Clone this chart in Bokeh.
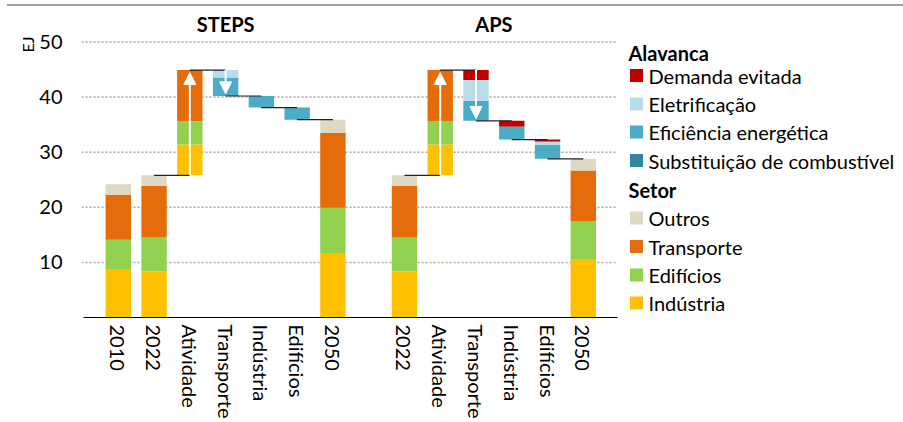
from bokeh.plotting import figure
from bokeh.models import ColumnDataSource, FixedTicker, Label, Arrow, NormalHead, Div, Range1d, Title
from bokeh.layouts import column
from bokeh.embed import file_html
from bokeh.resources import INLINE
from bokeh.core.properties import value

# ---------------- data (EJ) ----------------
steps_categories = ["2010", "2022", "Atividade", "Transporte", "Indústria", "Edifícios", "2050"]
aps_categories = ["2022", "Atividade", "Transporte", "Indústria", "Edifícios", "2050"]

sectors = ["Indústria", "Edifícios", "Transporte", "Outros"]
sector_colors = ["#FFC000", "#92D050", "#E46C0A", "#DDD9C3"]
levers = ["Demanda evitada", "Eletrificação", "Eficiência energética", "Substituição de combustível"]
lever_colors = ["#C00000", "#B7DEE8", "#4BACC6", "#31859C"]

# sector stacks for the year bars: order Indústria, Edifícios, Transporte, Outros
steps_2010 = [8.8, 5.3, 8.2, 1.9]
steps_2022 = [8.4, 6.2, 9.3, 1.9]
steps_2050 = [11.7, 8.2, 13.6, 2.4]
aps_2022 = [8.4, 6.2, 9.3, 1.9]
aps_2050 = [10.5, 7.0, 9.2, 2.1]

# activity effect 2022 -> 2050 by sector
steps_atividade = [5.6, 4.2, 9.3, 0.0]
aps_atividade = [5.6, 4.2, 9.3, 0.0]

# lever reductions: Demanda evitada, Eletrificação, Eficiência, Substituição
steps_transporte = [0.0, 1.4, 3.3, 0.0]
steps_industria = [0.0, 0.0, 2.1, 0.0]
steps_edificios = [0.0, 0.0, 2.2, 0.0]
aps_transporte = [1.8, 3.8, 3.6, 0.0]
aps_industria = [1.1, 0.0, 2.3, 0.0]
aps_edificios = [0.4, 0.6, 2.5, 0.0]

y_ticks = [10, 20, 30, 40, 50]

# ---------------- layout constants (page pixels) ----------------
FONT = "Lato"
DIV_H = 7
W, H = 903, 415
FRAME_LEFT_PAGE = 81
FRAME_BOTTOM_PAGE = 317
PX_X = 35.77                  # px per category slot
PX_Y = 5.51                   # px per EJ
MB_LEFT = FRAME_LEFT_PAGE
MB_BOTTOM = H - (FRAME_BOTTOM_PAGE - DIV_H)
frame_w = W - MB_LEFT
frame_h = H - MB_BOTTOM
x_start = (FRAME_LEFT_PAGE - 117.8) / PX_X
x_end = x_start + frame_w / PX_X
y_end = frame_h / PX_Y


def px_to_x(px):
    return x_start + (px - FRAME_LEFT_PAGE) / PX_X


def py_to_y(py):
    return (FRAME_BOTTOM_PAGE - py) / PX_Y


axis_lo, axis_hi = px_to_x(83), px_to_x(617)

# ---------------- build bars ----------------
bx, bbot, btop, bcol = [], [], [], []
connectors = []  # (x0, x1, y)
arrows = []      # (x, y0, y1)


def stack_year(x, vals):
    base = 0.0
    for v, c in zip(vals, sector_colors):
        if v > 0:
            bx.append(x); bbot.append(base); btop.append(base + v); bcol.append(c)
        base += v
    return base


def panel(offset, first_years, a2022, act, lever_steps, a2050):
    pos = offset
    for yv in first_years:
        stack_year(pos, yv)
        pos += 1
    x2022 = pos
    total = stack_year(x2022, a2022)
    xa = x2022 + 1
    connectors.append((x2022, xa, total))
    base = total
    for v, c in zip(act, sector_colors):
        if v > 0:
            bx.append(xa); bbot.append(base); btop.append(base + v); bcol.append(c)
        base += v
    arrows.append((xa, total, base - 0.45))
    level = base
    xp = xa
    for k, lv in enumerate(lever_steps):
        x = xa + 1 + k
        connectors.append((xp, x, level))
        start = level
        for v, c in zip(lv, lever_colors):
            if v > 0:
                bx.append(x); bbot.append(level - v); btop.append(level); bcol.append(c)
            level -= v
        if k == 0:
            arrows.append((x, start, level + 0.4))
        xp = x
    x50 = xa + 1 + len(lever_steps)
    connectors.append((xp, x50, level))
    stack_year(x50, a2050)


panel(0, [steps_2010], steps_2022, steps_atividade,
      [steps_transporte, steps_industria, steps_edificios], steps_2050)
panel(len(steps_categories) + 1, [], aps_2022, aps_atividade,
      [aps_transporte, aps_industria, aps_edificios], aps_2050)

tick_pos = list(range(len(steps_categories))) + \
    [len(steps_categories) + 1 + i for i in range(len(aps_categories))]
tick_labels = steps_categories + aps_categories

# ---------------- figure ----------------
p = figure(width=W, height=H, output_backend="svg", toolbar_location=None,
           x_range=Range1d(x_start, x_end), y_range=Range1d(0, y_end),
           min_border_left=MB_LEFT, min_border_right=0, min_border_top=0,
           min_border_bottom=MB_BOTTOM, outline_line_color=None,
           background_fill_color="white", border_fill_color="white")
p.xgrid.visible = False
p.ygrid.visible = False

# dotted gridlines over the chart area only
p.segment(x0=[x_start] * len(y_ticks), x1=[axis_hi] * len(y_ticks), y0=y_ticks, y1=y_ticks,
          line_color="#A6A6A6", line_width=1.5, line_dash="2 2")

src = ColumnDataSource(dict(x=bx, bottom=bbot, top=btop, color=bcol))
p.vbar(x="x", bottom="bottom", top="top", width=0.71, source=src,
       fill_color="color", line_color=None)

p.segment(x0=[c[0] for c in connectors], x1=[c[1] for c in connectors],
          y0=[c[2] for c in connectors], y1=[c[2] for c in connectors],
          line_color="#222222", line_width=1.2)

for (x, y0, y1) in arrows:
    p.add_layout(Arrow(end=NormalHead(size=12, fill_color="white", line_color="white"),
                       x_start=x, y_start=y0, x_end=x, y_end=y1,
                       line_color="white", line_width=2))

# axes
p.yaxis.ticker = FixedTicker(ticks=y_ticks)
p.yaxis.axis_line_color = None
p.yaxis.major_tick_line_color = None
p.yaxis.minor_tick_line_color = None
p.yaxis.major_tick_out = 0
p.yaxis.major_label_text_font = FONT
p.yaxis.major_label_text_font_size = "20px"
p.yaxis.major_label_text_color = "black"
p.yaxis.major_label_standoff = 19

p.xaxis.ticker = FixedTicker(ticks=tick_pos)
p.xaxis.major_label_overrides = {t: l for t, l in zip(tick_pos, tick_labels)}
p.xaxis.bounds = (axis_lo, axis_hi)
p.xaxis.axis_line_color = "black"
p.xaxis.axis_line_width = 1
p.xaxis.major_tick_line_color = None
p.xaxis.minor_tick_line_color = None
p.xaxis.major_tick_out = 0
p.xaxis.major_label_orientation = "vertical"
p.xaxis.major_label_text_font = FONT
p.xaxis.major_label_text_font_size = "20px"
p.xaxis.major_label_text_color = "black"
p.xaxis.major_label_standoff = 7

p.add_layout(Title(text="EJ", align="right", offset=29, text_font=FONT,
                   text_font_size="16px", text_font_style="normal", text_color="black",
                   standoff=0), "left")

# group titles
p.add_layout(Label(x=(len(steps_categories) - 1) / 2, y=py_to_y(23), text="STEPS",
                   text_font=FONT, text_font_style="bold", text_font_size="20px",
                   text_align="center", text_baseline="middle", text_color="black"))
aps_first = len(steps_categories) + 1
p.add_layout(Label(x=aps_first + (len(aps_categories) - 1) / 2, y=py_to_y(23), text="APS",
                   text_font=FONT, text_font_style="bold", text_font_size="20px",
                   text_align="center", text_baseline="middle", text_color="black"))

# legend (manual, two sections)
row_py = [52, 75, 103.5, 131.5, 160, 189, 217.5, 246, 274.5, 302.5]
leg_entries = [("Alavanca", None)] + list(zip(levers, lever_colors)) + \
    [("Setor", None)] + list(zip(sectors[::-1], sector_colors[::-1]))
sq_x, sq_y, sq_c = [], [], []
tx_x, tx_y, tx_t = [], [], []
hd_x, hd_y, hd_t = [], [], []
for (name, col), py in zip(leg_entries, row_py):
    if col is None:
        hd_x.append(px_to_x(628)); hd_y.append(py_to_y(py)); hd_t.append(name)
    else:
        sq_x.append(px_to_x(636)); sq_y.append(py_to_y(py)); sq_c.append(col)
        tx_x.append(px_to_x(648)); tx_y.append(py_to_y(py)); tx_t.append(name)
p.scatter(x=sq_x, y=sq_y, marker="square", size=13, fill_color=sq_c, line_color=None)
p.text(x=tx_x, y=tx_y, text=tx_t, text_font=value(FONT), text_font_size="20px",
       text_baseline="middle", text_align="left", text_color="black")
p.text(x=hd_x, y=hd_y, text=hd_t, text_font=value(FONT), text_font_size="20px",
       text_font_style="bold", text_baseline="middle", text_align="left", text_color="black")

top_line = Div(text="", width=896, height=2, margin=(4, 0, 1, 7),
               styles={"background-color": "#A0A0A0"})
layout = column(top_line, p, spacing=0)

open("out.html", "w").write(file_html(layout, INLINE))
